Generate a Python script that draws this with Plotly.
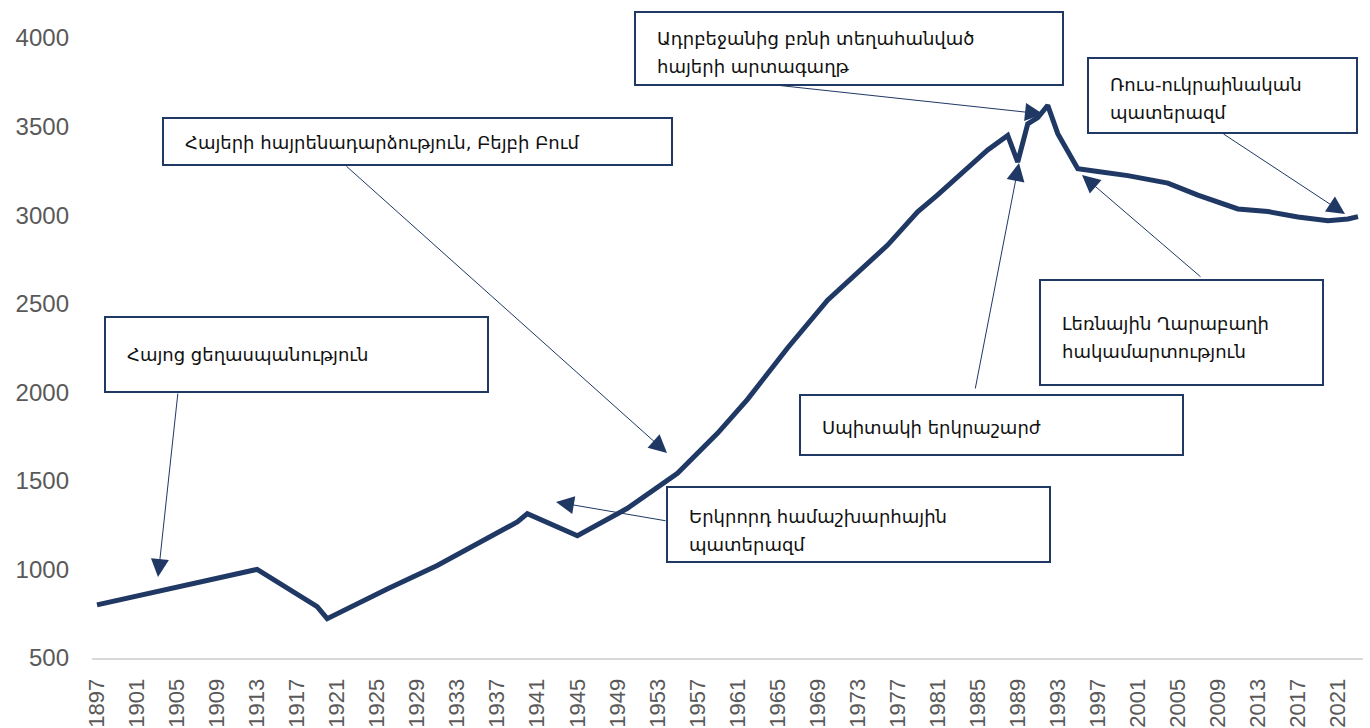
import plotly.graph_objects as go

# ---- data (thousand people) ----
years = [1897, 1913, 1919, 1920, 1926, 1931, 1939, 1940, 1945, 1950, 1955, 1959,
         1962, 1966, 1970, 1976, 1979, 1981, 1986, 1988, 1989, 1990, 1991, 1992,
         1993, 1995, 1997, 2000, 2004, 2007, 2011, 2014, 2017, 2020, 2022, 2023]
population = [800, 1000, 790, 722, 890, 1022, 1268, 1315, 1190, 1345, 1543, 1768,
              1960, 2250, 2520, 2831, 3019, 3114, 3368, 3450, 3300, 3515, 3550, 3620,
              3460, 3262, 3246, 3223, 3181, 3113, 3035, 3020, 2990, 2968, 2978, 2992]

tick_years = list(range(1897, 2022, 4))
y_ticks = [500, 1000, 1500, 2000, 2500, 3000, 3500, 4000]

events = [
    ["Հայոց ցեղասպանություն"],
    ["Հայերի հայրենադարձություն, Բեյբի Բում"],
    ["Երկրորդ համաշխարհային", "պատերազմ"],
    ["Սպիտակի երկրաշարժ"],
    ["Լեռնային Ղարաբաղի", "հակամարտություն"],
    ["Ադրբեջանից բռնի տեղահանված", "հայերի արտագաղթ"],
    ["Ռուս-ուկրաինական", "պատերազմ"],
]

# ---- layout geometry (pixels) ----
W, H = 1370, 728
L, R, T, B = 92, 1363, 38, 658
NAVY = "#1F3864"

def px(xp):
    return (xp - L) / (R - L)

def py(yp):
    return (B - yp) / (B - T)

# boxes: x0, y0, x1, y1, text_x, first line y
boxes = [
    (105, 317, 488, 392, 125, 355),
    (163, 118, 672, 165, 183, 142),
    (667, 487, 1050, 562, 687, 516),
    (800, 395, 1183, 455, 820, 427),
    (1040, 280, 1323, 385, 1060, 323),
    (635, 12, 1063, 85, 655, 38),
    (1088, 58, 1357, 133, 1108, 84),
]
# arrows: tail (x, y) -> head (x, y)
arrows = [
    ((178, 392), (158, 577)),
    ((345, 165), (667, 453)),
    ((667, 521), (556, 502)),
    ((975, 390), (1019, 163)),
    ((1202, 278), (1082, 175)),
    ((775, 85), (1043, 114)),
    ((1222, 133), (1345, 214)),
]
LINE_GAP = 28

fig = go.Figure()
fig.add_trace(go.Scatter(
    x=years, y=population, mode="lines",
    line=dict(color=NAVY, width=5),
    hoverinfo="x+y", showlegend=False,
))

shapes = []
annotations = []
for (x0, y0, x1, y1, tx, ty), lines in zip(boxes, events):
    shapes.append(dict(type="rect", xref="paper", yref="paper",
                       x0=px(x0), x1=px(x1), y0=py(y1), y1=py(y0),
                       line=dict(color=NAVY, width=2), fillcolor="white",
                       layer="above"))
    for i, t in enumerate(lines):
        annotations.append(dict(xref="paper", yref="paper",
                                x=px(tx), y=py(ty + i * LINE_GAP),
                                xanchor="left", yanchor="middle",
                                text=t, showarrow=False,
                                font=dict(family="DejaVu Sans", size=18, color="#111111")))

for (tx, ty), (hx, hy) in arrows:
    annotations.append(dict(xref="paper", yref="paper",
                            x=px(hx), y=py(hy), ax=tx - hx, ay=ty - hy,
                            axref="pixel", ayref="pixel",
                            text="", showarrow=True, arrowhead=2,
                            arrowsize=3.6, arrowwidth=1, arrowcolor=NAVY,
                            standoff=0, startstandoff=0))

fig.update_layout(
    width=W, height=H,
    margin=dict(l=L, r=W - R, t=T, b=H - B, pad=0, autoexpand=False),
    paper_bgcolor="white", plot_bgcolor="white",
    shapes=shapes, annotations=annotations,
    xaxis=dict(range=[1896.5, 2023.5], tickmode="array", tickvals=tick_years,
               ticktext=[str(v) for v in tick_years], tickangle=-90,
               showgrid=False, zeroline=False, showline=True,
               linecolor="#D9D9D9", linewidth=2, ticks="", automargin=False,
               ticklabelstandoff=10,
               tickfont=dict(family="Liberation Sans, Arial", size=22, color="#595959")),
    yaxis=dict(range=[500, 4000], tickmode="array", tickvals=y_ticks,
               showgrid=False, zeroline=False, showline=False, ticks="",
               automargin=False, ticklabelstandoff=22,
               tickfont=dict(family="Liberation Sans, Arial", size=24, color="#595959")),
)

fig.write_html("out.html",
               config={"displayModeBar": False},
               post_script="document.body.style.margin='0';document.body.style.overflow='hidden';")
